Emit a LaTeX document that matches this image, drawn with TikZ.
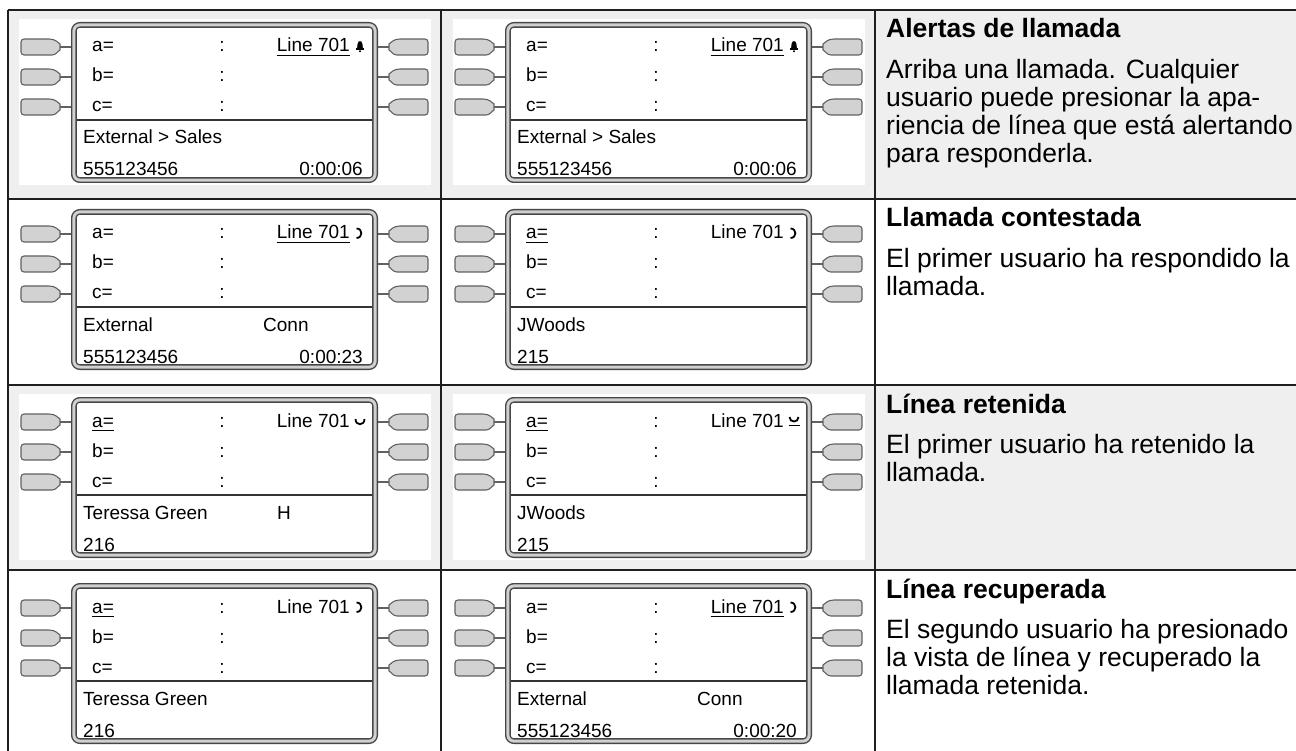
\documentclass[tikz,border=0pt]{standalone}
\usepackage{fontspec}
\setmainfont{Liberation Sans}
\usetikzlibrary{positioning}

\definecolor{cellgray}{HTML}{EFEFEF}
\definecolor{keyfill}{HTML}{D2D2D2}
\definecolor{framegap}{HTML}{D0D0D0}

\newcommand{\lcdfont}{\fontsize{19}{19}\selectfont}
\newcommand{\descfont}{\fontsize{26.5}{28}\selectfont}

% frame, keys and fixed labels of one display; #1 name, (#2,#3) top left of the frame
\newcommand{\lcdbase}[3]{%
  \fill[white] (#2-52,#3-3) rectangle (#2+360,#3+163);
  \begin{scope}[shift={(#2,#3)}]
    \draw[lcd] (2.9,2.9) rectangle (304.1,158.1);
    \draw[divline] (5.8,98) -- (301.2,98);
    \foreach \ky in {25,55,85} {
      \draw[key, rounded corners=3pt] (-22,\ky-8) -- (-50,\ky-8) -- (-50,\ky+8) -- (-22,\ky+8)
        [sharp corners] .. controls (-15,\ky+8) and (-13,\ky+4) .. (-11,\ky+3) -- (-11,\ky-3)
        .. controls (-13,\ky-4) and (-15,\ky-8) .. (-22,\ky-8) -- cycle;
      \draw[key, rounded corners=3pt] (329,\ky-8) -- (357,\ky-8) -- (357,\ky+8) -- (329,\ky+8)
        [sharp corners] .. controls (322,\ky+8) and (320,\ky+4) .. (318,\ky+3) -- (318,\ky-3)
        .. controls (320,\ky-4) and (322,\ky-8) .. (329,\ky-8) -- cycle;
      \draw[stub] (-11,\ky) -- (0,\ky);
      \draw[stub] (307,\ky) -- (318,\ky);
    }
    \node[lcdtxt] (#1-b) at (21,60) {b=};
    \node[lcdtxt] (#1-c) at (21,90) {c=};
    \foreach \ty [count=\i] in {30,60,90}
      \node[lcdtxt, anchor=base] (#1-col\i) at (151,\ty) {:};
  \end{scope}}

\newcommand{\bellicon}{%
  \fill[rounded corners=1.5pt] (286,27) -- (286.8,20) -- (289,18.5) -- (291.2,20) -- (292,27) -- cycle;
  \fill (285,26.5) rectangle (293,27.8);
  \fill (289,29.2) circle (1.1);}
\newcommand{\connicon}{%
  \draw[icon] (285.5,19.5) .. controls (292,19.5) and (292,29) .. (285.5,29);}
\newcommand{\holdicon}{%
  \draw[icon] (284.5,22) .. controls (284.5,29) and (293.5,29) .. (293.5,22);}
\newcommand{\holdbaricon}{%
  \draw[icon] (284.5,20) .. controls (284.5,26) and (293.5,26) .. (293.5,20);
  \draw[uline] (283.5,28.5) -- (294.5,28.5);}

\begin{document}
\begin{tikzpicture}[x=1pt, y=-1pt,
  lcd/.style={draw=black!72, fill=white, line width=1.4pt, double=framegap, double distance=3pt, rounded corners=6pt},
  divline/.style={draw=black!80, line width=1.5pt},
  key/.style={draw=black!62, fill=keyfill, line width=1.1pt},
  stub/.style={draw=black!62, line width=1.8pt},
  grid/.style={draw=black!88, line width=1.8pt},
  uline/.style={draw=black, line width=1.3pt},
  icon/.style={draw=black, line width=1.8pt},
  lcdtxt/.style={font=\lcdfont, inner sep=0pt, anchor=base west},
  lcdright/.style={font=\lcdfont, inner sep=0pt, anchor=base east},
  title/.style={font=\descfont\bfseries, inner sep=0pt, anchor=base west},
  desc/.style={font=\descfont, inner sep=0pt, anchor=north west, align=left}
]
\useasboundingbox (0,0) rectangle (1296,751);
\fill[white] (0,0) rectangle (1296,751);
\fill[cellgray] (8,10) rectangle (1296,199);
\fill[cellgray] (8,385) rectangle (1296,570);

\lcdbase{p11}{71}{22}
\begin{scope}[shift={(71,22)}]
  \node[lcdtxt] (p11-a) at (21,30) {a=};
  \node[lcdright] (p11-line) at (279,30) {Line 701};
  \draw[uline] ([yshift=-3.5pt]p11-line.base west) -- ([yshift=-3.5pt]p11-line.base east);
  \bellicon
  \node[lcdtxt] (p11-top) at (12,122) {External > Sales};
  \node[lcdtxt] (p11-num) at (12,154) {555123456};
  \node[lcdright] (p11-time) at (292,154) {0:00:06};
\end{scope}

\lcdbase{p12}{505}{22}
\begin{scope}[shift={(505,22)}]
  \node[lcdtxt] (p12-a) at (21,30) {a=};
  \node[lcdright] (p12-line) at (279,30) {Line 701};
  \draw[uline] ([yshift=-3.5pt]p12-line.base west) -- ([yshift=-3.5pt]p12-line.base east);
  \bellicon
  \node[lcdtxt] (p12-top) at (12,122) {External > Sales};
  \node[lcdtxt] (p12-num) at (12,154) {555123456};
  \node[lcdright] (p12-time) at (292,154) {0:00:06};
\end{scope}

\lcdbase{p21}{71}{209}
\begin{scope}[shift={(71,209)}]
  \node[lcdtxt] (p21-a) at (21,30) {a=};
  \node[lcdright] (p21-line) at (279,30) {Line 701};
  \draw[uline] ([yshift=-3.5pt]p21-line.base west) -- ([yshift=-3.5pt]p21-line.base east);
  \connicon
  \node[lcdtxt] (p21-top) at (12,122) {External};
  \node[lcdtxt] (p21-state) at (192,122) {Conn};
  \node[lcdtxt] (p21-num) at (12,154) {555123456};
  \node[lcdright] (p21-time) at (292,154) {0:00:23};
\end{scope}

\lcdbase{p22}{505}{209}
\begin{scope}[shift={(505,209)}]
  \node[lcdtxt] (p22-a) at (21,30) {a=};
  \draw[uline] ([yshift=-3.5pt]p22-a.base west) -- ([yshift=-3.5pt]p22-a.base east);
  \node[lcdright] (p22-line) at (279,30) {Line 701};
  \connicon
  \node[lcdtxt] (p22-top) at (12,122) {JWoods};
  \node[lcdtxt] (p22-num) at (12,154) {215};
\end{scope}

\lcdbase{p31}{71}{397}
\begin{scope}[shift={(71,397)}]
  \node[lcdtxt] (p31-a) at (21,30) {a=};
  \draw[uline] ([yshift=-3.5pt]p31-a.base west) -- ([yshift=-3.5pt]p31-a.base east);
  \node[lcdright] (p31-line) at (279,30) {Line 701};
  \holdicon
  \node[lcdtxt] (p31-top) at (12,122) {Teressa Green};
  \node[lcdtxt] (p31-state) at (206,122) {H};
  \node[lcdtxt] (p31-num) at (12,154) {216};
\end{scope}

\lcdbase{p32}{505}{397}
\begin{scope}[shift={(505,397)}]
  \node[lcdtxt] (p32-a) at (21,30) {a=};
  \draw[uline] ([yshift=-3.5pt]p32-a.base west) -- ([yshift=-3.5pt]p32-a.base east);
  \node[lcdright] (p32-line) at (279,30) {Line 701};
  \holdbaricon
  \node[lcdtxt] (p32-top) at (12,122) {JWoods};
  \node[lcdtxt] (p32-num) at (12,154) {215};
\end{scope}

\lcdbase{p41}{71}{583}
\begin{scope}[shift={(71,583)}]
  \node[lcdtxt] (p41-a) at (21,30) {a=};
  \draw[uline] ([yshift=-3.5pt]p41-a.base west) -- ([yshift=-3.5pt]p41-a.base east);
  \node[lcdright] (p41-line) at (279,30) {Line 701};
  \connicon
  \node[lcdtxt] (p41-top) at (12,122) {Teressa Green};
  \node[lcdtxt] (p41-num) at (12,154) {216};
\end{scope}

\lcdbase{p42}{505}{583}
\begin{scope}[shift={(505,583)}]
  \node[lcdtxt] (p42-a) at (21,30) {a=};
  \node[lcdright] (p42-line) at (279,30) {Line 701};
  \draw[uline] ([yshift=-3.5pt]p42-line.base west) -- ([yshift=-3.5pt]p42-line.base east);
  \connicon
  \node[lcdtxt] (p42-top) at (12,122) {External};
  \node[lcdtxt] (p42-state) at (192,122) {Conn};
  \node[lcdtxt] (p42-num) at (12,154) {555123456};
  \node[lcdright] (p42-time) at (292,154) {0:00:20};
\end{scope}

\node[title] (t1) at (886,38) {Alertas de llamada};
\node[desc] (d1) at (886,59) {Arriba una llamada. Cualquier\\usuario puede presionar la apa-\\riencia de línea que está alertando\\para responderla.};
\node[title] (t2) at (886,227) {Llamada contestada};
\node[desc] (d2) at (886,248) {El primer usuario ha respondido la\\llamada.};
\node[title] (t3) at (886,413) {Línea retenida};
\node[desc] (d3) at (886,434) {El primer usuario ha retenido la\\llamada.};
\node[title] (t4) at (886,598) {Línea recuperada};
\node[desc] (d4) at (886,619) {El segundo usuario ha presionado\\la vista de línea y recuperado la\\llamada retenida.};

\draw[grid] (8,10) -- (1296,10);
\draw[grid] (8,199) -- (1296,199);
\draw[grid] (8,385) -- (1296,385);
\draw[grid] (8,570) -- (1296,570);
\draw[grid] (8,10) -- (8,751);
\draw[grid] (441,10) -- (441,751);
\draw[grid] (875,10) -- (875,751);
\end{tikzpicture}
\end{document}
